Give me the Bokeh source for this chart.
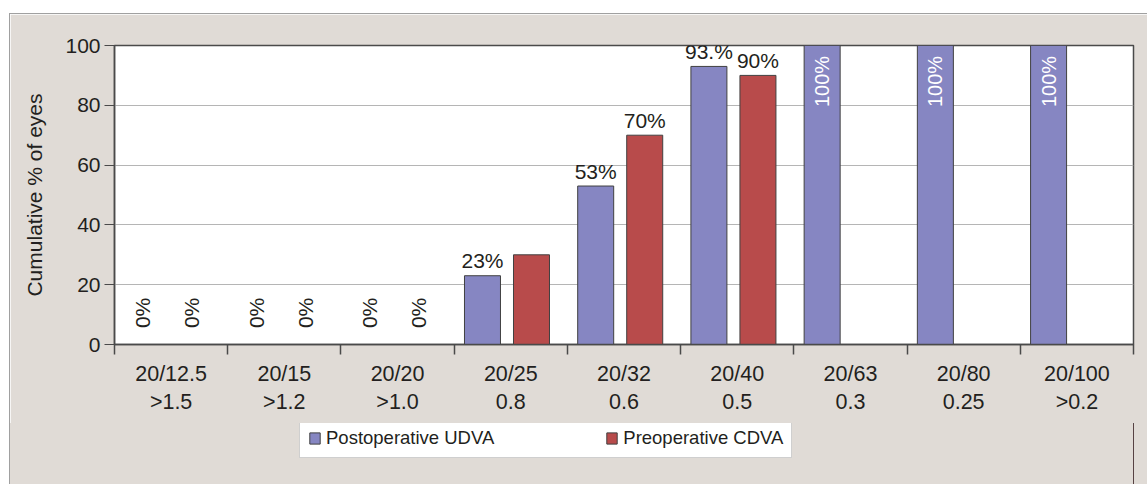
import math
from bokeh.plotting import figure
from bokeh.models import (ColumnDataSource, FixedTicker, Legend, LegendItem, Spacer)
from bokeh.layouts import column, row
from bokeh.core.properties import value
from bokeh.embed import file_html
from bokeh.resources import INLINE

# ---------------- data ----------------
categories = ["20/12.5", "20/15", "20/20", "20/25", "20/32", "20/40", "20/63", "20/80", "20/100"]
decimal_va = [">1.5", ">1.2", ">1.0", "0.8", "0.6", "0.5", "0.3", "0.25", ">0.2"]
post_udva = [0, 0, 0, 23, 53, 93, 100, 100, 100]
pre_cdva = [0, 0, 0, 30, 70, 90, None, None, None]
post_labels = ["0%", "0%", "0%", "23%", "53%", "93.%", "100%", "100%", "100%"]
pre_labels = ["0%", "0%", "0%", "", "70%", "90%", "", "", ""]
series_names = ["Postoperative UDVA", "Preoperative CDVA"]
y_ticks = [0, 20, 40, 60, 80, 100]

# ---------------- styles ----------------
FONT = "Liberation Sans"
BG = "#e0dbd6"
BLUE = "#8686c2"
RED = "#b84b4b"
EDGE = "#404040"
TXT = "#231f20"
AX = "#4a4a4a"
POST_OFF = -0.25
PRE_OFF = 0.183
BAR_W = 0.318

n = len(categories)
centers = [i + 0.5 for i in range(n)]

p = figure(width=1138, height=410, x_range=(0, n), y_range=(0, 100),
           output_backend="svg", toolbar_location=None,
           min_border_left=104, min_border_right=15, min_border_top=31, min_border_bottom=80)
p.border_fill_color = BG
p.background_fill_color = "white"
p.outline_line_color = AX
p.outline_line_width = 1.5
p.styles = {"border-top": "1px solid #a0a0a0", "border-left": "1px solid #a0a0a0"}

# bars
post_src = ColumnDataSource(dict(
    x=[c + POST_OFF for c, v in zip(centers, post_udva) if v],
    top=[v for v in post_udva if v]))
pre_src = ColumnDataSource(dict(
    x=[c + PRE_OFF for c, v in zip(centers, pre_cdva) if v],
    top=[v for v in pre_cdva if v]))
p.vbar(x="x", top="top", width=BAR_W, bottom=0, source=post_src,
       fill_color=BLUE, line_color=EDGE, line_width=1)
p.vbar(x="x", top="top", width=BAR_W, bottom=0, source=pre_src,
       fill_color=RED, line_color=EDGE, line_width=1)

# labels
zero_x, zero_y, zero_t = [], [], []
top_x, top_y, top_t = [], [], []
full_x, full_y, full_t = [], [], []
for vals, labs, off in ((post_udva, post_labels, POST_OFF),
                        (pre_cdva, pre_labels, PRE_OFF)):
    for cx, v, t in zip(centers, vals, labs):
        if not t:
            continue
        if v == 0:
            zero_x.append(cx + off); zero_y.append(5.5); zero_t.append(t)
        elif v >= 100:
            full_x.append(cx + off); full_y.append(96.5); full_t.append(t)
        else:
            top_x.append(cx + off); top_y.append(v); top_t.append(t)

p.text(x=zero_x, y=zero_y, text=zero_t, angle=math.pi / 2, text_align="left",
       text_baseline="middle", text_font=value(FONT), text_font_size="21px", text_color=TXT)
p.text(x=top_x, y=top_y, text=top_t, text_align="center", text_baseline="alphabetic",
       y_offset=-15, text_font=value(FONT), text_font_size="21px", text_color=TXT)
p.text(x=full_x, y=full_y, text=full_t, angle=math.pi / 2, text_align="right",
       text_baseline="middle", text_font=value(FONT), text_font_size="20px", text_color="white")

# grid
p.xgrid.visible = False
p.ygrid.ticker = FixedTicker(ticks=y_ticks)
p.ygrid.grid_line_color = "#b5b5b5"
p.ygrid.grid_line_width = 1

# y axis
yax = p.yaxis[0]
yax.ticker = FixedTicker(ticks=y_ticks)
yax.axis_label = "Cumulative % of eyes"
yax.axis_label_text_font = FONT
yax.axis_label_text_font_size = "21px"
yax.axis_label_text_font_style = "normal"
yax.axis_label_text_color = TXT
yax.axis_label_standoff = 16
yax.major_label_text_font = FONT
yax.major_label_text_font_size = "21px"
yax.major_label_text_color = TXT
yax.major_tick_in = 0
yax.major_tick_out = 10
yax.major_tick_line_color = AX
yax.minor_tick_line_color = None
yax.axis_line_color = AX
yax.axis_line_width = 1.5
yax.major_label_standoff = 4

# x axis
xax = p.xaxis[0]
xax.ticker = FixedTicker(ticks=centers, minor_ticks=list(range(n + 1)))
xax.major_label_overrides = {c: f"{a}\n{b}" for c, a, b in zip(centers, categories, decimal_va)}
xax.major_label_text_font = FONT
xax.major_label_text_font_size = "21.5px"
xax.major_label_text_color = TXT
xax.major_tick_line_color = None
xax.major_tick_in = 0
xax.major_tick_out = 0
xax.minor_tick_in = 0
xax.minor_tick_out = 10
xax.minor_tick_line_color = AX
xax.minor_tick_line_width = 1.5
xax.axis_line_color = AX
xax.axis_line_width = 1.5
xax.major_label_standoff = 7

# legend strip (separate figure below the chart, same panel background)
pl = figure(width=1138, height=61, x_range=(0, 1), y_range=(0, 1),
            output_backend="svg", toolbar_location=None,
            x_axis_type=None, y_axis_type=None,
            min_border_left=104, min_border_right=15, min_border_top=0, min_border_bottom=0)
pl.grid.visible = False
pl.border_fill_alpha = 0
pl.background_fill_alpha = 0
pl.outline_line_color = None
pl.styles = {"border-left": "1px solid #a0a0a0", "background-color": BG}
# legend proxies share the bar data; their bars fall outside this strip's range
lr_post = pl.vbar(x="x", top="top", width=BAR_W, source=post_src,
                  fill_color=BLUE, line_color=EDGE, line_width=1)
lr_pre = pl.vbar(x="x", top="top", width=BAR_W, source=pre_src,
                 fill_color=RED, line_color=EDGE, line_width=1)

legend = Legend(items=[LegendItem(label=series_names[0], renderers=[lr_post]),
                       LegendItem(label=series_names[1], renderers=[lr_pre])],
                orientation="horizontal", location=(185, 26))
legend.label_text_font = FONT
legend.label_text_font_size = "18.5px"
legend.label_text_color = TXT
legend.glyph_width = 13
legend.glyph_height = 14
legend.label_standoff = 5
legend.label_height = 20
legend.spacing = 111
legend.padding = 8
legend.margin = 0
legend.border_line_color = "#a0a0a0"
legend.border_line_width = 1
legend.background_fill_color = "white"
legend.background_fill_alpha = 1
pl.add_layout(legend, "center")

layout = column(Spacer(width=1147, height=13),
                row(Spacer(width=9, height=471), column(p, pl)))
open("out.html", "w").write(file_html(layout, INLINE))
